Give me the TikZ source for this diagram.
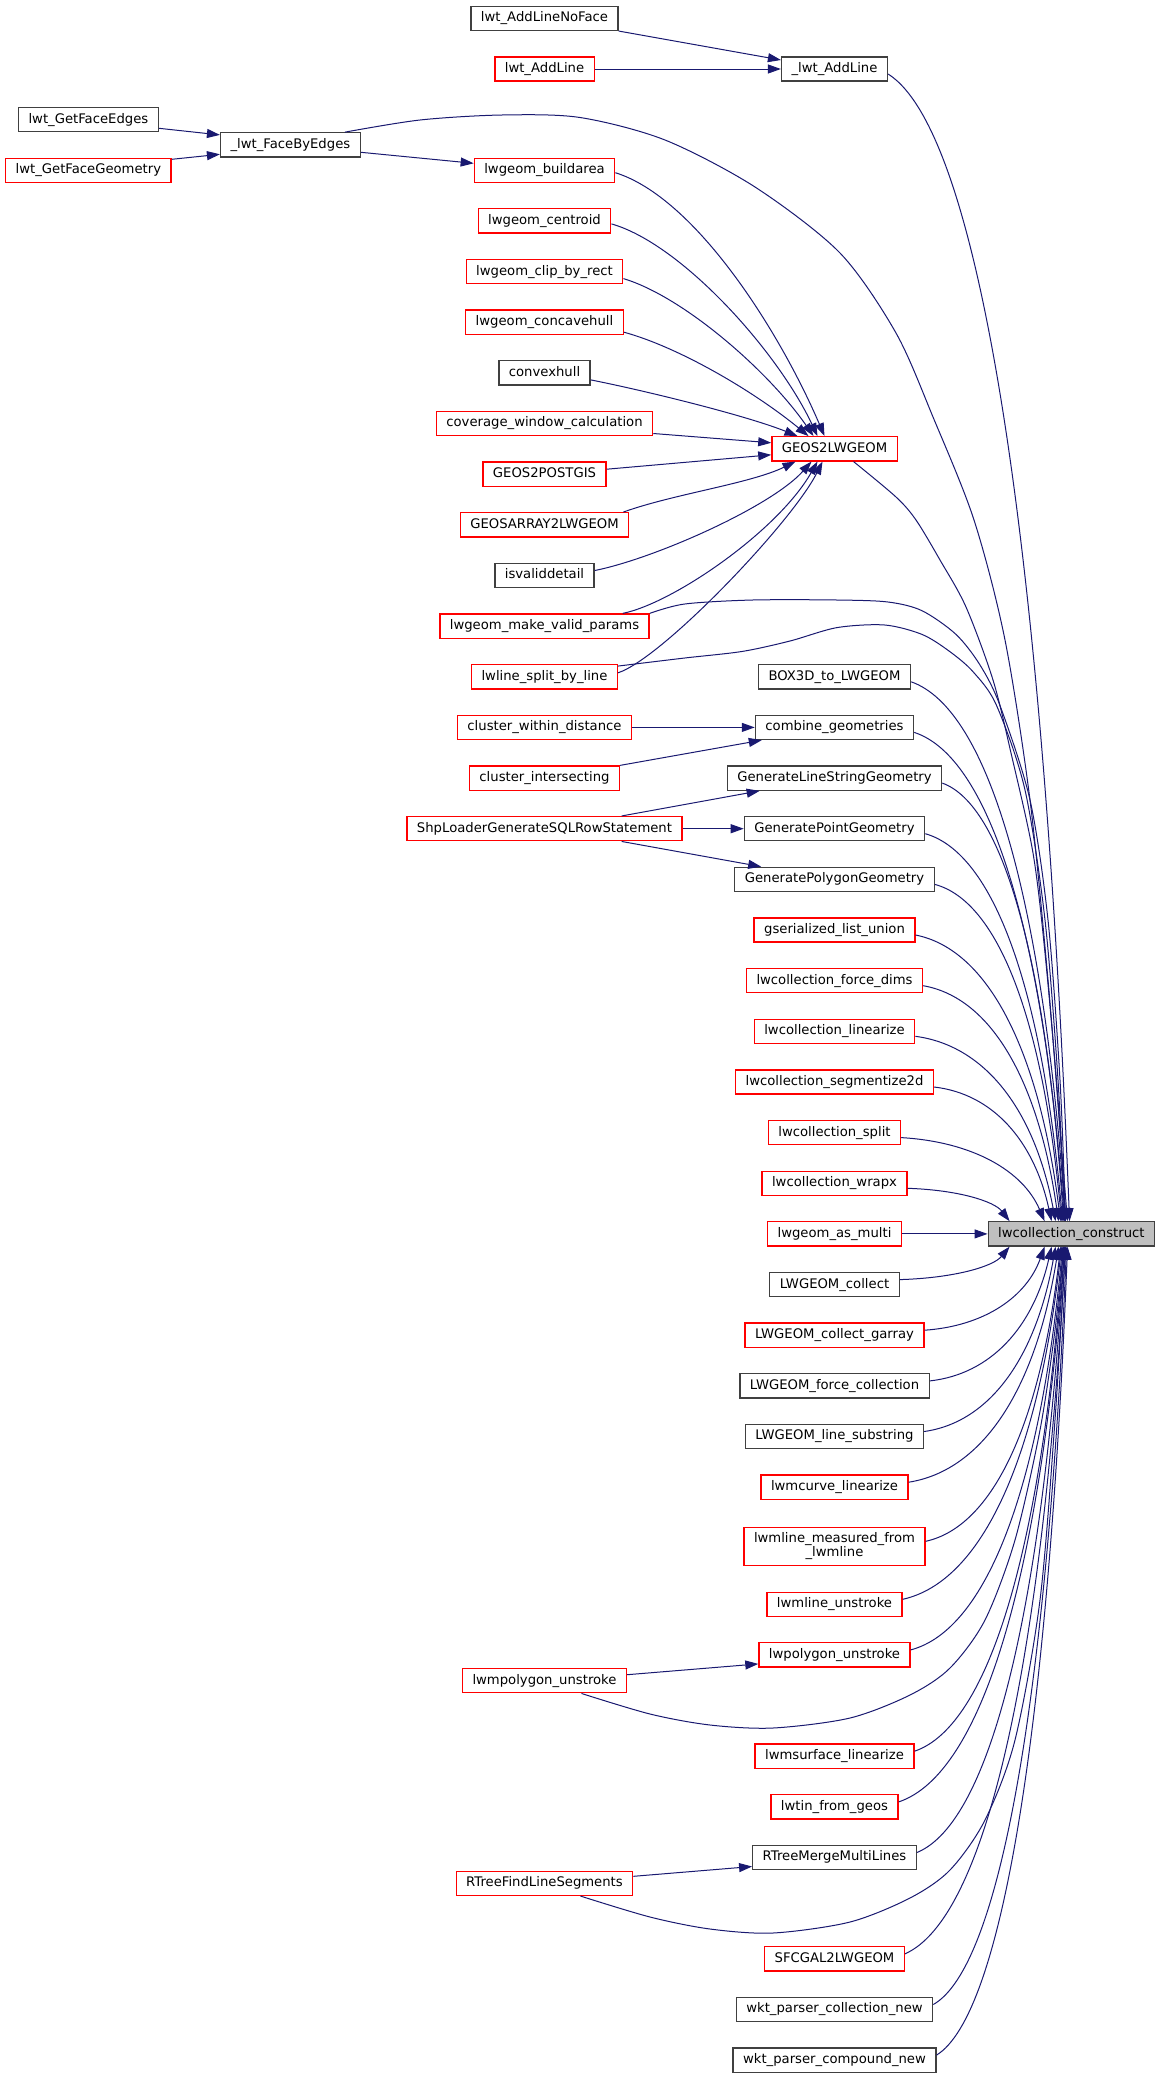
\documentclass[tikz,border=0pt]{standalone}
\usepackage{fontspec}
\setmainfont{DejaVu Sans}
\usetikzlibrary{arrows.meta,calc}

\definecolor{callblue}{HTML}{191970}
\definecolor{boxline}{HTML}{404040}
\definecolor{rootgrey}{HTML}{BFBFBF}

\tikzset{
  fnbox/.style={draw=boxline, line width=1.3pt, fill=white, rectangle,
    inner xsep=10pt, inner ysep=0pt, minimum height=24.2pt,
    font=\fontsize{13.2}{14}\selectfont},
  fn/.style={fnbox, text height=9.6pt, text depth=2.7pt},
  fnr/.style={fn, draw=red},
  fnroot/.style={fn, fill=rootgrey},
  call/.style={color=callblue, line width=1pt, -{Triangle[length=13pt,width=9pt]}}
}

\begin{document}
\begin{tikzpicture}[x=1pt,y=1pt]
    \useasboundingbox (0,0) rectangle (1160,-2080);
    % Callers on the far left
    \node[fn]  (gfe)  at (88.4,-119.6)  {lwt\_GetFaceEdges};
    \node[fnr] (gfg)  at (88.4,-170.3)  {lwt\_GetFaceGeometry};
    \node[fn]  (fbe)  at (290.4,-144.9) {\_lwt\_FaceByEdges};
    % Middle column
    \node[fn]  (alnf) at (544.5,-18.3)  {lwt\_AddLineNoFace};
    \node[fnr] (al)   at (544.5,-69)    {lwt\_AddLine};
    \node[fnr] (bld)  at (544.5,-170.3) {lwgeom\_buildarea};
    \node[fnr] (cen)  at (544.5,-220.9) {lwgeom\_centroid};
    \node[fnr] (clip) at (544.5,-271.6) {lwgeom\_clip\_by\_rect};
    \node[fnr] (conc) at (544.5,-322.2) {lwgeom\_concavehull};
    \node[fn]  (cvx)  at (544.5,-372.9) {convexhull};
    \node[fnr] (cov)  at (544.5,-423.5) {coverage\_window\_calculation};
    \node[fnr] (g2p)  at (544.5,-474.2) {GEOS2POSTGIS};
    \node[fnr] (gsa)  at (544.5,-524.8) {GEOSARRAY2LWGEOM};
    \node[fn]  (isv)  at (544.5,-575.5) {isvaliddetail};
    \node[fnr] (mvp)  at (544.5,-626.1) {lwgeom\_make\_valid\_params};
    \node[fnr] (lsl)  at (544.5,-676.8) {lwline\_split\_by\_line};
    \node[fnr] (cwd)  at (544.5,-727.4) {cluster\_within\_distance};
    \node[fnr] (cin)  at (544.5,-778.1) {cluster\_intersecting};
    \node[fnr] (shp)  at (544.5,-828.7) {ShpLoaderGenerateSQLRowStatement};
    \node[fnr] (lmp)  at (544.5,-1680.7) {lwmpolygon\_unstroke};
    \node[fnr] (rfl)  at (544.5,-1883.3) {RTreeFindLineSegments};
    % Direct callers
    \node[fn]  (ual)  at (834.5,-69)    {\_lwt\_AddLine};
    \node[fnr] (g2l)  at (834.5,-448.8) {GEOS2LWGEOM};
    \node[fn]  (box)  at (834.5,-676.8) {BOX3D\_to\_LWGEOM};
    \node[fn]  (cmb)  at (834.5,-727.4) {combine\_geometries};
    \node[fn]  (gls)  at (834.5,-778.1) {GenerateLineStringGeometry};
    \node[fn]  (gpt)  at (834.5,-828.7) {GeneratePointGeometry};
    \node[fn]  (gpg)  at (834.5,-879.4) {GeneratePolygonGeometry};
    \node[fnr] (gsu)  at (834.5,-930)   {gserialized\_list\_union};
    \node[fnr] (lfd)  at (834.5,-980.7) {lwcollection\_force\_dims};
    \node[fnr] (lcl)  at (834.5,-1031.3) {lwcollection\_linearize};
    \node[fnr] (lcs)  at (834.5,-1082)  {lwcollection\_segmentize2d};
    \node[fnr] (lsp)  at (834.5,-1132.6) {lwcollection\_split};
    \node[fnr] (lwx)  at (834.5,-1183.3) {lwcollection\_wrapx};
    \node[fnr] (lam)  at (834.5,-1233.9) {lwgeom\_as\_multi};
    \node[fn]  (lgc)  at (834.5,-1284.6) {LWGEOM\_collect};
    \node[fnr] (lga)  at (834.5,-1335.2) {LWGEOM\_collect\_garray};
    \node[fn]  (lfc)  at (834.5,-1385.9) {LWGEOM\_force\_collection};
    \node[fn]  (lls)  at (834.5,-1436.5) {LWGEOM\_line\_substring};
    \node[fnr] (lmc)  at (834.5,-1487.2) {lwmcurve\_linearize};
    \node[fnbox, draw=red, align=center, minimum height=38.2pt] (mfl) at (834.5,-1546.3)
        {lwmline\_measured\_from\\\_lwmline};
    \node[fnr] (lmu)  at (834.5,-1604.3) {lwmline\_unstroke};
    \node[fnr] (lpu)  at (834.5,-1654.9) {lwpolygon\_unstroke};
    \node[fnr] (lms)  at (834.5,-1756.2) {lwmsurface\_linearize};
    \node[fnr] (ltg)  at (834.5,-1806.9) {lwtin\_from\_geos};
    \node[fn]  (rtm)  at (834.5,-1857.5) {RTreeMergeMultiLines};
    \node[fnr] (sfc)  at (834.5,-1958.8) {SFCGAL2LWGEOM};
    \node[fn]  (wpn)  at (834.5,-2009.5) {wkt\_parser\_collection\_new};
    \node[fn]  (wcp)  at (834.5,-2060.1) {wkt\_parser\_compound\_new};
    % The function itself
    \node[fnroot] (cc) at (1071.4,-1233.9) {lwcollection\_construct};

    % Short calls on the left
    \draw[call] (alnf.south east) -- ($(ual.west)+(0,9)$);
    \draw[call] (al.east) -- (ual.west);
    \draw[call] ($(gfe.east)+(0,-8.7)$) -- ($(fbe.west)+(0,10)$);
    \draw[call] ($(gfg.east)+(0,11)$) -- ($(fbe.west)+(0,-9.4)$);
    \draw[call] ($(fbe.east)+(0,-7.4)$) -- ($(bld.west)+(0,7)$);
    \draw[call] (cwd.east) -- (cmb.west);
    \draw[call] (cin.north east) -- ($(cmb.south west)+(7,0)$);
    \draw[call] ($(shp.north east)+(-61,0)$) -- ($(gls.south west)+(33,0)$);
    \draw[call] (shp.east) -- (gpt.west);
    \draw[call] ($(shp.south east)+(-61,0)$) -- ($(gpg.north west)+(27,0)$);
    \draw[call] ($(lmp.east)+(0,6)$) -- ($(lpu.west)+(0,-9)$);
    \draw[call] ($(rfl.east)+(0,7)$) -- ($(rtm.west)+(0,-9)$);
    \draw[call] (lam.east) -- (cc.west);

    % Calls into GEOS2LWGEOM
    \draw[call] ($(bld.east)+(0,-2.4)$) .. controls +(80,-25) and +(-45,105) .. ($(g2l.north)+(-10,0)$);
    \draw[call] ($(cen.east)+(0,-3)$) .. controls +(70,-20) and +(-40,85) .. ($(g2l.north)+(-17,0)$);
    \draw[call] ($(clip.east)+(0,-7)$) .. controls +(60,-18) and +(-45,65) .. ($(g2l.north)+(-21,0)$);
    \draw[call] ($(conc.east)+(0,-10)$) .. controls +(55,-15) and +(-55,45) .. ($(g2l.north)+(-26,0)$);
    \draw[call] ($(cvx.east)+(0,-7)$) .. controls +(60,-12) and +(-50,20) .. ($(g2l.north)+(-37,0)$);
    \draw[call] ($(cov.east)+(0,-10)$) -- ($(g2l.west)+(0,6)$);
    \draw[call] ($(g2p.east)+(0,5)$) -- ($(g2l.west)+(0,-6)$);
    \draw[call] ($(gsa.north east)+(-6,0)$) .. controls +(50,18) and +(-45,-22) .. ($(g2l.south)+(-39,0)$);
    \draw[call] ($(isv.east)+(0,5)$) .. controls +(60,12) and +(-40,-45) .. ($(g2l.south)+(-23,0)$);
    \draw[call] ($(mvp.north east)+(-27,0)$) .. controls +(50,10) and +(-40,-70) .. ($(g2l.south)+(-17,0)$);
    \draw[call] ($(lsl.east)+(0,4)$) .. controls +(45,15) and +(-30,-60) .. ($(g2l.south)+(-12,0)$);

    % Calls into lwcollection_construct from above
    \foreach \s/\e in {ual/82, box/78, cmb/77, gls/76, gpt/75, gpg/74, gsu/73,
                       lfd/71, lcl/68, lcs/64, lsp/57, lwx/22}
        \draw[call] let \p1=($(\s.east)+(0,-5)$), \p2=($(cc.north west)+(\e,0)$) in
            (\p1) .. controls +({0.5*(\x2-\x1)},{0.05*(\y2-\y1)})
                  and +({-0.15*(\x2-\x1)},{-0.6*(\y2-\y1)}) .. (\p2);
    % Calls into lwcollection_construct from below
    \foreach \s/\e in {lgc/22, lga/57, lfc/64, lls/68, lmc/71, mfl/73, lmu/74,
                       lpu/75, lms/76, ltg/77, rtm/77, sfc/78, wpn/79, wcp/80}
        \draw[call] let \p1=($(\s.east)+(0,5)$), \p2=($(cc.south west)+(\e,0)$) in
            (\p1) .. controls +({0.5*(\x2-\x1)},{0.05*(\y2-\y1)})
                  and +({-0.15*(\x2-\x1)},{-0.6*(\y2-\y1)}) .. (\p2);

    % Long calls
    \draw[call] plot[smooth] coordinates {($(fbe.north east)+(-16,0)$) (420,-120) (502,-115)
        (580,-117.5) (665,-140) (755,-187) (840,-253) (896,-333) (933,-417) (974,-520)
        (1005,-640) (1030,-800) (1048,-980) (1060,-1130) ($(cc.north west)+(80,0)$)};
    \draw[call] plot[smooth] coordinates {($(g2l.south)+(19,0)$) (896,-497) (916,-520)
        (940,-560) (966,-607) (993,-680) (1011,-753) (1033,-853) (1045,-953) (1058,-1100)
        ($(cc.north west)+(78,0)$)};
    \draw[call] plot[smooth] coordinates {(mvp.north east) (684.7,-604) (752.5,-600)
        (837,-600) (888,-602) (922,-610.7) (956,-634.4) (980,-665) (1000,-705.6)
        (1030,-800) (1048,-920) (1060,-1080) ($(cc.north west)+(78,0)$)};
    \draw[call] plot[smooth] coordinates {($(lsl.north east)+(0,-2)$) (684.7,-658) (742.4,-651.4)
        (790,-641) (837,-627.6) (884.7,-625) (922,-634.4) (949,-651) (973,-671.7)
        (996.6,-705.6) (1025,-790) (1045,-920) (1058,-1080) ($(cc.north west)+(77,0)$)};
    \draw[call] plot[smooth] coordinates {($(lmp.south)+(37,0)$) (650,-1714) (710,-1725)
        (773,-1728) (850,-1718) (910,-1695) (950,-1668) (985,-1620) (1015,-1540)
        (1040,-1430) (1055,-1330) ($(cc.south west)+(76,0)$)};
    \draw[call] plot[smooth] coordinates {($(rfl.south)+(36,0)$) (650,-1917) (710,-1929)
        (773,-1933) (850,-1922) (910,-1898) (950,-1870) (985,-1820) (1015,-1740)
        (1040,-1600) (1055,-1420) ($(cc.south west)+(78,0)$)};
\end{tikzpicture}
\end{document}
